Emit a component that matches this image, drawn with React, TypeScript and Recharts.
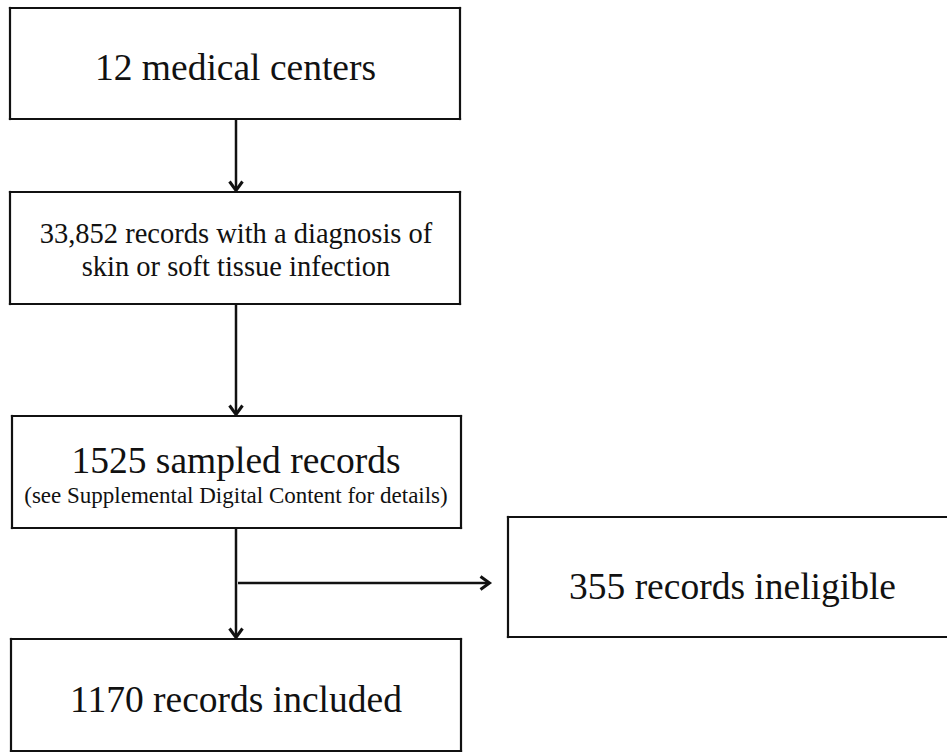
import React from "react";
import { ComposedChart, XAxis, YAxis, ReferenceArea, ReferenceLine, Scatter } from "recharts";

// ---- content (values) ----
const stageCounts = ["12", "33,852", "1525", "355", "1170"];
const stageLines = [
  ["medical centers"],
  ["records with a diagnosis of", "skin or soft tissue infection"],
  ["sampled records"],
  ["records ineligible"],
  ["records included"],
];
const stageNotes = ["", "", "(see Supplemental Digital Content for details)", "", ""];

// ---- layout (chart coordinates) ----
const W = 947;
const H = 752;
const boxX1 = [10, 10, 12, 508, 11];
const boxX2 = [460, 460, 461, 957, 461];
const boxY1 = [8, 192, 416, 517, 639];
const boxY2 = [119, 304, 528, 637, 751];
const lineOffsets = [[16.5], [-5, 28], [1], [22], [17]];
const noteOffsets = [0, 0, 31, 0, 0];
const fontSizes = [37.5, 28.5, 37.5, 37.5, 37.5];
const noteSize = 23;
const textCenters = [235.5, 236, 236, 732.5, 236];

const arrowFrom = [
  { x: 236, y: 119 },
  { x: 236, y: 304 },
  { x: 236, y: 528 },
  { x: 238, y: 583 },
];
const arrowTo = [
  { x: 236, y: 192 },
  { x: 236, y: 416 },
  { x: 236, y: 639 },
  { x: 491, y: 583 },
];

const anchorPoints = [
  { x: 0, y: 0 },
  { x: W, y: H },
];

const FONT = "'Liberation Serif', 'Times New Roman', serif";
const INK = "#111";

function makeBoxShape(i: number) {
  return (props: any) => {
    const { x, y, width, height } = props;
    const cx = x + (textCenters[i] - boxX1[i]);
    const cy = y + height / 2;
    const first = stageCounts[i] + " " + stageLines[i][0];
    const texts = [first, ...stageLines[i].slice(1)];
    const openRight = boxX2[i] > W;
    const right = x + width;
    return (
      <g>
        <line x1={x} y1={y} x2={openRight ? right + 30 : right} y2={y} stroke={INK} strokeWidth={2.2} strokeLinecap="square" />
        <line x1={x} y1={y + height} x2={openRight ? right + 30 : right} y2={y + height} stroke={INK} strokeWidth={2.2} strokeLinecap="square" />
        <line x1={x} y1={y} x2={x} y2={y + height} stroke={INK} strokeWidth={2.2} strokeLinecap="square" />
        {openRight ? null : (
          <line x1={right} y1={y} x2={right} y2={y + height} stroke={INK} strokeWidth={2.2} strokeLinecap="square" />
        )}
        {texts.map((t, k) => (
          <text
            key={k}
            x={cx}
            y={cy + lineOffsets[i][k]}
            textAnchor="middle"
            fontFamily={FONT}
            fontSize={fontSizes[i]}
            fill={INK}
          >
            {t}
          </text>
        ))}
        {stageNotes[i] ? (
          <text
            x={cx}
            y={cy + noteOffsets[i]}
            textAnchor="middle"
            fontFamily={FONT}
            fontSize={noteSize}
            fill={INK}
          >
            {stageNotes[i]}
          </text>
        ) : null}
      </g>
    );
  };
}

function ArrowShape(props: any) {
  const { x1, y1, x2, y2 } = props;
  const dx = x2 - x1;
  const dy = y2 - y1;
  const len = Math.sqrt(dx * dx + dy * dy) || 1;
  const ux = dx / len;
  const uy = dy / len;
  const px = -uy;
  const py = ux;
  const back = 9;
  const half = 6.5;
  const tipX = x2 - ux * 1.5;
  const tipY = y2 - uy * 1.5;
  const ax = tipX - ux * back + px * half;
  const ay = tipY - uy * back + py * half;
  const bx = tipX - ux * back - px * half;
  const by = tipY - uy * back - py * half;
  return (
    <g>
      <line x1={x1} y1={y1} x2={tipX - ux * 1} y2={tipY - uy * 1} stroke={INK} strokeWidth={2.5} />
      <path
        d={`M${ax},${ay} L${tipX},${tipY} L${bx},${by}`}
        fill="none"
        stroke={INK}
        strokeWidth={3}
        strokeLinejoin="miter"
      />
    </g>
  );
}

export default function App() {
  return (
    <div style={{ position: "absolute", left: 0, top: 0, width: W, height: H, background: "#fff", overflow: "hidden" }}>
      <ComposedChart width={W} height={H} data={anchorPoints} margin={{ top: 0, right: 0, bottom: 0, left: 0 }}>
        <XAxis type="number" dataKey="x" domain={[0, W]} hide allowDataOverflow />
        <YAxis type="number" dataKey="y" domain={[0, H]} reversed hide allowDataOverflow width={0} />
        <Scatter data={anchorPoints} dataKey="y" isAnimationActive={false} shape={() => <g />} />
        {arrowFrom.map((p, i) => (
          <ReferenceLine
            key={"a" + i}
            segment={[p, arrowTo[i]]}
            ifOverflow="visible"
            shape={ArrowShape}
          />
        ))}
        {stageCounts.map((_, i) => (
          <ReferenceArea
            key={"b" + i}
            x1={boxX1[i]}
            x2={boxX2[i]}
            y1={boxY1[i]}
            y2={boxY2[i]}
            ifOverflow="visible"
            shape={makeBoxShape(i)}
          />
        ))}
      </ComposedChart>
    </div>
  );
}
